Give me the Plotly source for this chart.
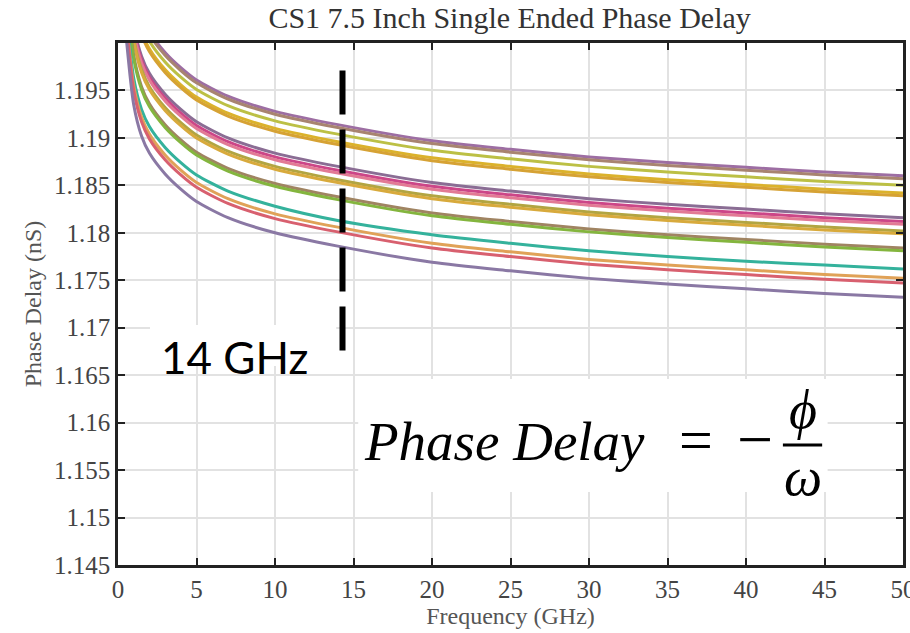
import plotly.graph_objects as go

# Frequency sample points (GHz)
freq = [0.5, 1, 1.5, 2, 3, 4, 5, 7, 10, 14, 20, 25, 30, 35, 40, 45, 50]

# Phase delay curves (nS), top to bottom at 50 GHz
d01 = [1.2138, 1.2063, 1.2030, 1.2012, 1.1990, 1.1974, 1.1961, 1.1944, 1.1928, 1.1914, 1.1897, 1.1888, 1.1880, 1.1874, 1.1869, 1.1864, 1.1860]
d02 = [1.2135, 1.2060, 1.2027, 1.2009, 1.1987, 1.1971, 1.1958, 1.1941, 1.1925, 1.1911, 1.1894, 1.1885, 1.1877, 1.1871, 1.1866, 1.1861, 1.1857]
d03 = [1.2128, 1.2053, 1.2020, 1.2002, 1.1980, 1.1964, 1.1951, 1.1934, 1.1918, 1.1904, 1.1887, 1.1878, 1.1870, 1.1864, 1.1859, 1.1854, 1.1850]
d04 = [1.2120, 1.2045, 1.2012, 1.1994, 1.1972, 1.1956, 1.1943, 1.1926, 1.1910, 1.1896, 1.1879, 1.1870, 1.1862, 1.1856, 1.1851, 1.1846, 1.1842]
d05 = [1.2117, 1.2042, 1.2009, 1.1991, 1.1969, 1.1953, 1.1940, 1.1923, 1.1907, 1.1893, 1.1876, 1.1867, 1.1859, 1.1853, 1.1848, 1.1843, 1.1839]
d06 = [1.2094, 1.2019, 1.1986, 1.1968, 1.1946, 1.1930, 1.1917, 1.1900, 1.1884, 1.1870, 1.1853, 1.1844, 1.1836, 1.1830, 1.1825, 1.1820, 1.1816]
d07 = [1.2090, 1.2015, 1.1982, 1.1964, 1.1942, 1.1926, 1.1913, 1.1896, 1.1880, 1.1866, 1.1849, 1.1840, 1.1832, 1.1826, 1.1821, 1.1816, 1.1812]
d08 = [1.2087, 1.2012, 1.1979, 1.1961, 1.1939, 1.1923, 1.1910, 1.1893, 1.1877, 1.1863, 1.1846, 1.1837, 1.1829, 1.1823, 1.1818, 1.1813, 1.1809]
d09 = [1.2080, 1.2005, 1.1972, 1.1954, 1.1932, 1.1916, 1.1903, 1.1886, 1.1870, 1.1856, 1.1839, 1.1830, 1.1822, 1.1816, 1.1811, 1.1806, 1.1802]
d10 = [1.2077, 1.2002, 1.1969, 1.1951, 1.1929, 1.1913, 1.1900, 1.1883, 1.1867, 1.1853, 1.1836, 1.1827, 1.1819, 1.1813, 1.1808, 1.1803, 1.1799]
d11 = [1.2062, 1.1987, 1.1954, 1.1936, 1.1914, 1.1898, 1.1885, 1.1868, 1.1852, 1.1838, 1.1821, 1.1812, 1.1804, 1.1798, 1.1793, 1.1788, 1.1784]
d12 = [1.2059, 1.1984, 1.1951, 1.1933, 1.1911, 1.1895, 1.1882, 1.1865, 1.1849, 1.1835, 1.1818, 1.1809, 1.1801, 1.1795, 1.1790, 1.1785, 1.1781]
d13 = [1.2038, 1.1963, 1.1930, 1.1912, 1.1890, 1.1874, 1.1861, 1.1844, 1.1828, 1.1813, 1.1798, 1.1789, 1.1781, 1.1775, 1.1770, 1.1766, 1.1762]
d14 = [1.2030, 1.1955, 1.1922, 1.1904, 1.1882, 1.1866, 1.1853, 1.1836, 1.1820, 1.1806, 1.1789, 1.1780, 1.1772, 1.1766, 1.1761, 1.1756, 1.1752]
d15 = [1.2025, 1.1950, 1.1917, 1.1899, 1.1877, 1.1861, 1.1848, 1.1831, 1.1815, 1.1801, 1.1784, 1.1775, 1.1767, 1.1761, 1.1756, 1.1751, 1.1747]
d16 = [1.2010, 1.1935, 1.1902, 1.1884, 1.1862, 1.1846, 1.1833, 1.1816, 1.1800, 1.1786, 1.1769, 1.1760, 1.1752, 1.1746, 1.1741, 1.1736, 1.1732]

curves = [d01, d02, d03, d04, d05, d06, d07, d08, d09, d10, d11, d12, d13, d14, d15, d16]
colors = ["#9d6ea3", "#a88470", "#bcc045", "#dbb22c", "#d6a234",
          "#8a6d94", "#cc4688", "#e27a95", "#b2a542", "#d8aa3c",
          "#a08462", "#84b53e", "#34b29c", "#e0a258", "#d8606f", "#8a78a4"]

x_ticks = [0, 5, 10, 15, 20, 25, 30, 35, 40, 45, 50]
y_ticks = [1.145, 1.15, 1.155, 1.16, 1.165, 1.17, 1.175, 1.18, 1.185, 1.19, 1.195]
y_tick_text = ["1.145", "1.15", "1.155", "1.16", "1.165", "1.17", "1.175", "1.18", "1.185", "1.19", "1.195"]

marker_freq = 14.3
marker_span = [1.1674, 1.1971]

serif = "Liberation Serif"

fig = go.Figure()
for ys, c in zip(curves, colors):
    fig.add_trace(go.Scatter(x=freq, y=ys, mode="lines",
                             line=dict(color=c, width=3, shape="spline", smoothing=0.7),
                             showlegend=False, hoverinfo="skip"))

# white boxes behind the text
fig.add_shape(type="rect", xref="x", yref="y", x0=2.04, x1=13.9, y0=1.16598, y1=1.17030,
              fillcolor="white", line=dict(width=0), layer="above")
fig.add_shape(type="rect", xref="x", yref="y", x0=15.3, x1=45.2, y0=1.15269, y1=1.16459,
              fillcolor="white", line=dict(width=0), layer="above")

# dashed marker line
fig.add_shape(type="line", xref="x", yref="y", x0=marker_freq, x1=marker_freq,
              y0=marker_span[1], y1=marker_span[0],
              line=dict(color="black", width=6, dash="44px,15px"), layer="above")

# fraction bar
fig.add_shape(type="line", xref="x", yref="y", x0=42.35, x1=44.85, y0=1.15764, y1=1.15764,
              line=dict(color="black", width=3), layer="above")

fig.add_annotation(x=7.45, y=1.1669, xref="x", yref="y", text="14 GHz", showarrow=False,
                   font=dict(family="Lato", size=44, color="black"))
fig.add_annotation(x=15.55, y=1.1580, xref="x", yref="y", xanchor="left",
                   text="<i>Phase Delay</i>", showarrow=False,
                   font=dict(family=serif, size=55, color="black"))
fig.add_annotation(x=36.8, y=1.1582, xref="x", yref="y", text="=", showarrow=False,
                   font=dict(family=serif, size=60, color="black"))
fig.add_annotation(x=40.55, y=1.1582, xref="x", yref="y", text="−", showarrow=False,
                   font=dict(family=serif, size=64, color="black"))
fig.add_annotation(x=43.6, y=1.1613, xref="x", yref="y", text="<i>ϕ</i>", showarrow=False,
                   font=dict(family=serif, size=54, color="black"))
fig.add_annotation(x=43.6, y=1.1543, xref="x", yref="y", text="<i>ω</i>", showarrow=False,
                   font=dict(family=serif, size=54, color="black"))

axis_common = dict(showline=True, linecolor="#222222", linewidth=2.5, mirror="ticks",
                   ticks="inside", ticklen=7, tickwidth=2, tickcolor="#222222",
                   showgrid=True, gridcolor="#e2e2e2", gridwidth=1.5, zeroline=False,
                   ticklabeloverflow="allow", automargin=False,
                   tickfont=dict(family=serif, size=25, color="#444444"))

fig.update_layout(
    width=910, height=633,
    margin=dict(l=118, r=7, t=43, b=68),
    paper_bgcolor="white", plot_bgcolor="white",
    title=dict(text="CS1 7.5 Inch Single Ended Phase Delay", x=0.56, xanchor="center",
               y=0.972, yanchor="middle",
               font=dict(family=serif, size=30, color="#333333")),
    xaxis=dict(range=[0, 50], tickvals=x_ticks,
               title=dict(text="Frequency (GHz)", standoff=4,
                          font=dict(family=serif, size=24, color="#555555")),
               **axis_common),
    yaxis=dict(range=[1.145, 1.2], tickvals=y_ticks, ticktext=y_tick_text,
               title=dict(text="Phase Delay (nS)", standoff=6,
                          font=dict(family=serif, size=24, color="#555555")),
               **axis_common),
)

fig.write_html("out.html")
